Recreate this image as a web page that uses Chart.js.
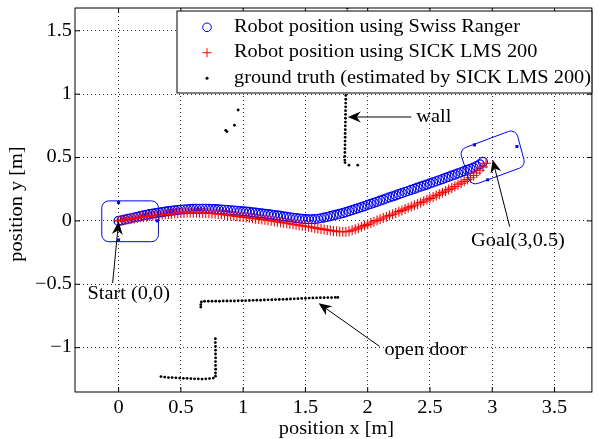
<!DOCTYPE html>
<html>
<head>
<meta charset="utf-8">
<script src="https://cdn.jsdelivr.net/npm/chart.js@4"></script>
<style>
  body { margin: 0; background: #fff; }
  canvas { display: block; }
</style>
</head>
<body>
<canvas id="chart" width="598" height="439"></canvas>
<script>
// tick labels
const xTicks = [0, 0.5, 1, 1.5, 2, 2.5, 3, 3.5];
const yTicks = [-1, -0.5, 0, 0.5, 1, 1.5];

// robot position using Swiss Ranger (blue circles)
const swissX = [0, 0.025, 0.05, 0.075, 0.1, 0.125, 0.15, 0.175, 0.2, 0.225, 0.25, 0.275, 0.3, 0.325, 0.35, 0.375,
  0.4, 0.425, 0.45, 0.475, 0.5, 0.525, 0.55, 0.575, 0.6, 0.625, 0.65, 0.675, 0.7, 0.725, 0.75, 0.775,
  0.8, 0.825, 0.85, 0.875, 0.9, 0.925, 0.95, 0.975, 1.0, 1.025, 1.05, 1.075, 1.1, 1.125, 1.15, 1.175,
  1.2, 1.225, 1.25, 1.275, 1.3, 1.325, 1.35, 1.375, 1.4, 1.425, 1.45, 1.475, 1.5, 1.525, 1.55, 1.575,
  1.6, 1.625, 1.65, 1.675, 1.7, 1.725, 1.75, 1.775, 1.8, 1.825, 1.85, 1.875, 1.9, 1.925, 1.95, 1.975,
  2.0, 2.025, 2.05, 2.075, 2.1, 2.125, 2.15, 2.175, 2.2, 2.225, 2.25, 2.275, 2.3, 2.325, 2.35, 2.375,
  2.4, 2.425, 2.45, 2.475, 2.5, 2.525, 2.55, 2.575, 2.6, 2.625, 2.65, 2.675, 2.7, 2.725, 2.75, 2.775,
  2.8, 2.825, 2.85, 2.875, 2.9, 2.925];
const swissY = [0, 0.005, 0.010, 0.016, 0.021, 0.027, 0.032, 0.038, 0.043, 0.048, 0.053, 0.058, 0.062, 0.066, 0.070, 0.074,
  0.077, 0.080, 0.083, 0.086, 0.088, 0.090, 0.092, 0.094, 0.095, 0.096, 0.096, 0.096, 0.096, 0.095, 0.094, 0.093,
  0.091, 0.090, 0.088, 0.086, 0.084, 0.082, 0.080, 0.078, 0.076, 0.074, 0.071, 0.068, 0.065, 0.062, 0.059, 0.056,
  0.053, 0.050, 0.046, 0.043, 0.039, 0.036, 0.032, 0.029, 0.025, 0.022, 0.019, 0.016, 0.014, 0.013, 0.013, 0.014,
  0.017, 0.021, 0.026, 0.031, 0.037, 0.043, 0.049, 0.055, 0.062, 0.069, 0.077, 0.085, 0.093, 0.101, 0.109, 0.117,
  0.126, 0.134, 0.143, 0.151, 0.160, 0.168, 0.177, 0.185, 0.194, 0.202, 0.211, 0.219, 0.228, 0.236, 0.245, 0.253,
  0.262, 0.270, 0.279, 0.287, 0.296, 0.304, 0.313, 0.321, 0.330, 0.339, 0.348, 0.357, 0.366, 0.375, 0.384, 0.393,
  0.402, 0.411, 0.421, 0.432, 0.446, 0.466];

// robot position using SICK LMS 200 (red crosses)
const sickX = [0, 0.025, 0.05, 0.075, 0.1, 0.125, 0.15, 0.175, 0.2, 0.225, 0.25, 0.275, 0.3, 0.325, 0.35, 0.375,
  0.4, 0.425, 0.45, 0.475, 0.5, 0.525, 0.55, 0.575, 0.6, 0.625, 0.65, 0.675, 0.7, 0.725, 0.75, 0.775,
  0.8, 0.825, 0.85, 0.875, 0.9, 0.925, 0.95, 0.975, 1.0, 1.025, 1.05, 1.075, 1.1, 1.125, 1.15, 1.175,
  1.2, 1.225, 1.25, 1.275, 1.3, 1.325, 1.35, 1.375, 1.4, 1.425, 1.45, 1.475, 1.5, 1.525, 1.55, 1.575,
  1.6, 1.625, 1.65, 1.675, 1.7, 1.725, 1.75, 1.775, 1.8, 1.825, 1.85, 1.875, 1.9, 1.925, 1.95, 1.975,
  2.0, 2.025, 2.05, 2.075, 2.1, 2.125, 2.15, 2.175, 2.2, 2.225, 2.25, 2.275, 2.3, 2.325, 2.35, 2.375,
  2.4, 2.425, 2.45, 2.475, 2.5, 2.525, 2.55, 2.575, 2.6, 2.625, 2.65, 2.675, 2.7, 2.725, 2.75, 2.775,
  2.8, 2.825, 2.85, 2.875, 2.9, 2.925, 2.95];
const sickY = [0, 0.004, 0.008, 0.012, 0.016, 0.020, 0.024, 0.028, 0.031, 0.035, 0.038, 0.041, 0.044, 0.047, 0.050, 0.053,
  0.055, 0.057, 0.059, 0.061, 0.062, 0.063, 0.064, 0.065, 0.065, 0.065, 0.064, 0.063, 0.062, 0.060, 0.058, 0.056,
  0.054, 0.052, 0.049, 0.046, 0.043, 0.040, 0.036, 0.033, 0.030, 0.027, 0.024, 0.021, 0.018, 0.015, 0.012, 0.009,
  0.006, 0.002, -0.002, -0.006, -0.010, -0.014, -0.018, -0.022, -0.026, -0.030, -0.034, -0.038, -0.042, -0.046, -0.050, -0.055,
  -0.059, -0.063, -0.067, -0.071, -0.075, -0.079, -0.082, -0.085, -0.086, -0.085, -0.081, -0.074, -0.066, -0.057, -0.047, -0.037,
  -0.027, -0.017, -0.007, 0.003, 0.013, 0.023, 0.033, 0.043, 0.053, 0.063, 0.073, 0.083, 0.093, 0.103, 0.113, 0.123,
  0.134, 0.144, 0.155, 0.166, 0.177, 0.188, 0.200, 0.211, 0.223, 0.235, 0.247, 0.259, 0.272, 0.285, 0.298, 0.312,
  0.326, 0.341, 0.358, 0.378, 0.400, 0.425, 0.455];

// ground truth (estimated by SICK LMS 200)
const wallPts = [[1.836,1.68],[1.835,1.65],[1.835,1.62],[1.834,1.59],[1.834,1.56],[1.833,1.53],[1.833,1.50],[1.832,1.47],
  [1.832,1.44],[1.831,1.41],[1.831,1.38],[1.830,1.35],[1.830,1.32],[1.829,1.29],[1.829,1.26],[1.828,1.23],[1.828,1.20],
  [1.827,1.17],[1.827,1.14],[1.826,1.11],[1.826,1.08],[1.825,1.05],[1.825,1.02],[1.824,0.99],[1.824,0.96],[1.823,0.93],
  [1.823,0.90],[1.822,0.87],[1.822,0.84],[1.821,0.81],[1.821,0.78],[1.820,0.75],[1.820,0.72],[1.819,0.69],[1.819,0.66],
  [1.818,0.63],[1.818,0.60],[1.817,0.57],[1.817,0.54],[1.816,0.51],[1.816,0.48],[1.818,0.46],[1.85,0.44],[1.92,0.44]];
const strayPts = [[0.86,0.715],[0.87,0.705],[0.93,0.755],[0.96,0.875]];
const doorPts = [[0.66,-0.680],[0.66,-0.660],[0.665,-0.640],[0.69,-0.634],[0.72,-0.634],[0.75,-0.633],[0.78,-0.633],
  [0.81,-0.634],[0.84,-0.632],[0.87,-0.632],[0.90,-0.631],[0.93,-0.632],[0.96,-0.630],[0.99,-0.630],[1.02,-0.629],
  [1.05,-0.628],[1.08,-0.627],[1.11,-0.626],[1.14,-0.626],[1.17,-0.624],[1.20,-0.623],[1.23,-0.622],[1.26,-0.621],
  [1.29,-0.620],[1.32,-0.619],[1.35,-0.618],[1.38,-0.616],[1.41,-0.615],[1.44,-0.614],[1.47,-0.612],[1.50,-0.611],
  [1.53,-0.609],[1.56,-0.608],[1.59,-0.607],[1.62,-0.606],[1.65,-0.606],[1.68,-0.605],[1.71,-0.605],[1.74,-0.604],[1.76,-0.604]];
const cornerPts = [[0.34,-1.228],[0.37,-1.232],[0.40,-1.236],[0.43,-1.236],[0.46,-1.238],[0.49,-1.240],[0.52,-1.242],
  [0.55,-1.242],[0.58,-1.244],[0.61,-1.246],[0.64,-1.246],[0.67,-1.248],[0.70,-1.246],[0.73,-1.244],[0.76,-1.240],
  [0.778,-1.225],[0.778,-1.20],[0.779,-1.17],[0.778,-1.14],[0.778,-1.11],[0.779,-1.08],[0.778,-1.05],[0.778,-1.02],
  [0.778,-0.99],[0.777,-0.96],[0.777,-0.93]];

// uncertainty boxes at start and goal
const startBox = [[-0.135,0.158],[0.32,0.158],[0.32,-0.164],[-0.135,-0.164]];
const startMarks = [[0,0.145],[0.31,0],[0,-0.15]];
const goalBox = [[2.736,0.561],[3.188,0.727],[3.268,0.434],[2.83,0.276]];
const goalMarks = [[2.857,0.6],[3.198,0.587],[2.963,0.324]];

// text notes: label, text anchor, arrow tail, arrow head
const notes = [
  { text: 'wall', at: [2.39, 0.82], tail: [2.35, 0.82], head: [1.84, 0.82] },
  { text: 'Start (0,0)', at: [-0.25, -0.577], tail: [-0.048, -0.49], head: [0, -0.005] },
  { text: 'Goal(3,0.5)', at: [2.83, -0.163], tail: [3.14, -0.045], head: [3.003, 0.482] },
  { text: 'open door', at: [2.135, -1.02], tail: [2.095, -0.99], head: [1.606, -0.65] }
];

const legendLabels = ['Robot position using Swiss Ranger', 'Robot position using SICK LMS 200', 'ground truth (estimated by SICK LMS 200)'];

const FONT = '18px "Liberation Serif", "Times New Roman", serif';
const SX = 1.13;

function drawText(ctx, str, x, y, align, rot) {
  ctx.save();
  ctx.translate(x, y);
  if (rot) ctx.rotate(rot);
  ctx.scale(SX, 1);
  ctx.font = FONT;
  ctx.fillStyle = '#000';
  ctx.textAlign = align;
  ctx.textBaseline = 'middle';
  ctx.fillText(str, 0, 0);
  ctx.restore();
}

function fmt(v) {
  return v < 0 ? '\u2212' + String(-v) : String(v);
}

function arrow(ctx, x1, y1, x2, y2) {
  const a = Math.atan2(y2 - y1, x2 - x1);
  const L = 13, W = 5.5, N = 9;
  ctx.strokeStyle = '#000';
  ctx.lineWidth = 1;
  ctx.beginPath();
  ctx.moveTo(x1, y1);
  ctx.lineTo(x2 - Math.cos(a) * N, y2 - Math.sin(a) * N);
  ctx.stroke();
  const c = Math.cos(a), s = Math.sin(a);
  ctx.fillStyle = '#000';
  ctx.beginPath();
  ctx.moveTo(x2, y2);
  ctx.lineTo(x2 - c * L - s * W, y2 - s * L + c * W);
  ctx.lineTo(x2 - c * N, y2 - s * N);
  ctx.lineTo(x2 - c * L + s * W, y2 - s * L - c * W);
  ctx.closePath();
  ctx.fill();
}

function roundPoly(ctx, pts, r) {
  const n = pts.length;
  ctx.beginPath();
  ctx.moveTo((pts[n - 1][0] + pts[0][0]) / 2, (pts[n - 1][1] + pts[0][1]) / 2);
  for (let i = 0; i < n; i++) {
    const p = pts[i], q = pts[(i + 1) % n];
    ctx.arcTo(p[0], p[1], q[0], q[1], r);
  }
  ctx.closePath();
  ctx.stroke();
}

const extras = {
  id: 'extras',
  afterDatasetsDraw(chart) {
    const ctx = chart.ctx;
    const sx = chart.scales.x, sy = chart.scales.y;
    const px = p => [sx.getPixelForValue(p[0]), sy.getPixelForValue(p[1])];
    const area = chart.chartArea;

    // boxes
    ctx.save();
    ctx.strokeStyle = '#0000ff';
    ctx.fillStyle = '#0000ff';
    ctx.lineWidth = 1;
    [startBox, goalBox].forEach(b => roundPoly(ctx, b.map(px), 7));
    startMarks.concat(goalMarks).forEach(m => {
      const [x, y] = px(m);
      ctx.fillRect(x - 1.5, y - 1.5, 3, 3);
    });
    ctx.restore();

    // notes with arrows
    notes.forEach(n => {
      const t = px(n.tail), h = px(n.head), a = px(n.at);
      arrow(ctx, t[0], t[1], h[0], h[1]);
      drawText(ctx, n.text, a[0], a[1], 'left');
    });

    // axes box and inward ticks
    ctx.save();
    ctx.strokeStyle = '#000';
    ctx.lineWidth = 1;
    ctx.strokeRect(area.left, area.top, area.right - area.left, area.bottom - area.top);
    ctx.beginPath();
    xTicks.forEach(v => {
      const x = sx.getPixelForValue(v);
      ctx.moveTo(x, area.bottom); ctx.lineTo(x, area.bottom - 5);
      ctx.moveTo(x, area.top); ctx.lineTo(x, area.top + 5);
    });
    yTicks.forEach(v => {
      const y = sy.getPixelForValue(v);
      ctx.moveTo(area.left, y); ctx.lineTo(area.left + 5, y);
      ctx.moveTo(area.right, y); ctx.lineTo(area.right - 5, y);
    });
    ctx.stroke();
    ctx.restore();

    // tick labels and axis titles
    xTicks.forEach(v => drawText(ctx, fmt(v), sx.getPixelForValue(v), 408.5, 'center'));
    yTicks.forEach(v => drawText(ctx, fmt(v), area.left - 3, sy.getPixelForValue(v), 'right'));
    drawText(ctx, 'position x [m]', (area.left + area.right) / 2 + 3, 429, 'center');
    drawText(ctx, 'position y [m]', 17, (area.top + area.bottom) / 2 + 4, 'center', -Math.PI / 2);

    // legend
    const lx = 177, ly = 11, lw = area.right - lx, lh = 82;
    ctx.save();
    ctx.fillStyle = '#fff';
    ctx.fillRect(lx, ly, lw, lh);
    ctx.strokeStyle = '#000';
    ctx.lineWidth = 1;
    ctx.strokeRect(lx, ly, lw, lh);
    const rows = [27.3, 52.7, 78.3];
    ctx.strokeStyle = '#0000ff';
    ctx.beginPath();
    ctx.arc(207, rows[0], 4.3, 0, Math.PI * 2);
    ctx.stroke();
    ctx.strokeStyle = '#ff0000';
    ctx.beginPath();
    ctx.moveTo(202.5, rows[1]); ctx.lineTo(211.5, rows[1]);
    ctx.moveTo(207, rows[1] - 4.5); ctx.lineTo(207, rows[1] + 4.5);
    ctx.stroke();
    ctx.fillStyle = '#000';
    ctx.beginPath();
    ctx.arc(207, rows[2], 1.5, 0, Math.PI * 2);
    ctx.fill();
    ctx.restore();
    legendLabels.forEach((t, i) => drawText(ctx, t, 234, rows[i], 'left'));
  }
};

const toPts = (xs, ys) => xs.map((x, i) => ({ x: x, y: ys[i] }));
const truth = wallPts.concat(strayPts, doorPts, cornerPts).map(p => ({ x: p[0], y: p[1] }));

new Chart(document.getElementById('chart'), {
  type: 'scatter',
  data: {
    datasets: [
      {
        label: legendLabels[0],
        data: toPts(swissX, swissY),
        pointStyle: 'circle',
        pointRadius: 4.5,
        borderColor: '#0000ff',
        backgroundColor: 'rgba(0,0,0,0)',
        borderWidth: 1.2,
        order: 3
      },
      {
        label: legendLabels[1],
        data: toPts(sickX, sickY),
        pointStyle: 'cross',
        pointRadius: 5,
        borderColor: '#ff0000',
        borderWidth: 1.1,
        order: 2
      },
      {
        label: legendLabels[2],
        data: truth,
        pointStyle: 'circle',
        pointRadius: 1.4,
        borderWidth: 0,
        backgroundColor: '#000',
        order: 1
      }
    ]
  },
  options: {
    responsive: false,
    animation: false,
    devicePixelRatio: 1,
    layout: { padding: { top: 8, right: 1, left: 0, bottom: 0 } },
    plugins: { legend: { display: false }, tooltip: { enabled: false } },
    scales: {
      x: {
        type: 'linear',
        min: -0.35,
        max: 3.8,
        afterBuildTicks: s => { s.ticks = xTicks.map(v => ({ value: v })); },
        afterFit: s => { s.height = 47; },
        ticks: { display: false },
        grid: { color: 'rgba(0,0,0,0.8)', lineWidth: 1, drawTicks: false },
        border: { display: false, dash: [1, 3] }
      },
      y: {
        type: 'linear',
        min: -1.35,
        max: 1.68,
        afterBuildTicks: s => { s.ticks = yTicks.map(v => ({ value: v })); },
        afterFit: s => { s.width = 75; },
        ticks: { display: false },
        grid: { color: 'rgba(0,0,0,0.8)', lineWidth: 1, drawTicks: false },
        border: { display: false, dash: [1, 3] }
      }
    }
  },
  plugins: [extras]
});
</script>
</body>
</html>
